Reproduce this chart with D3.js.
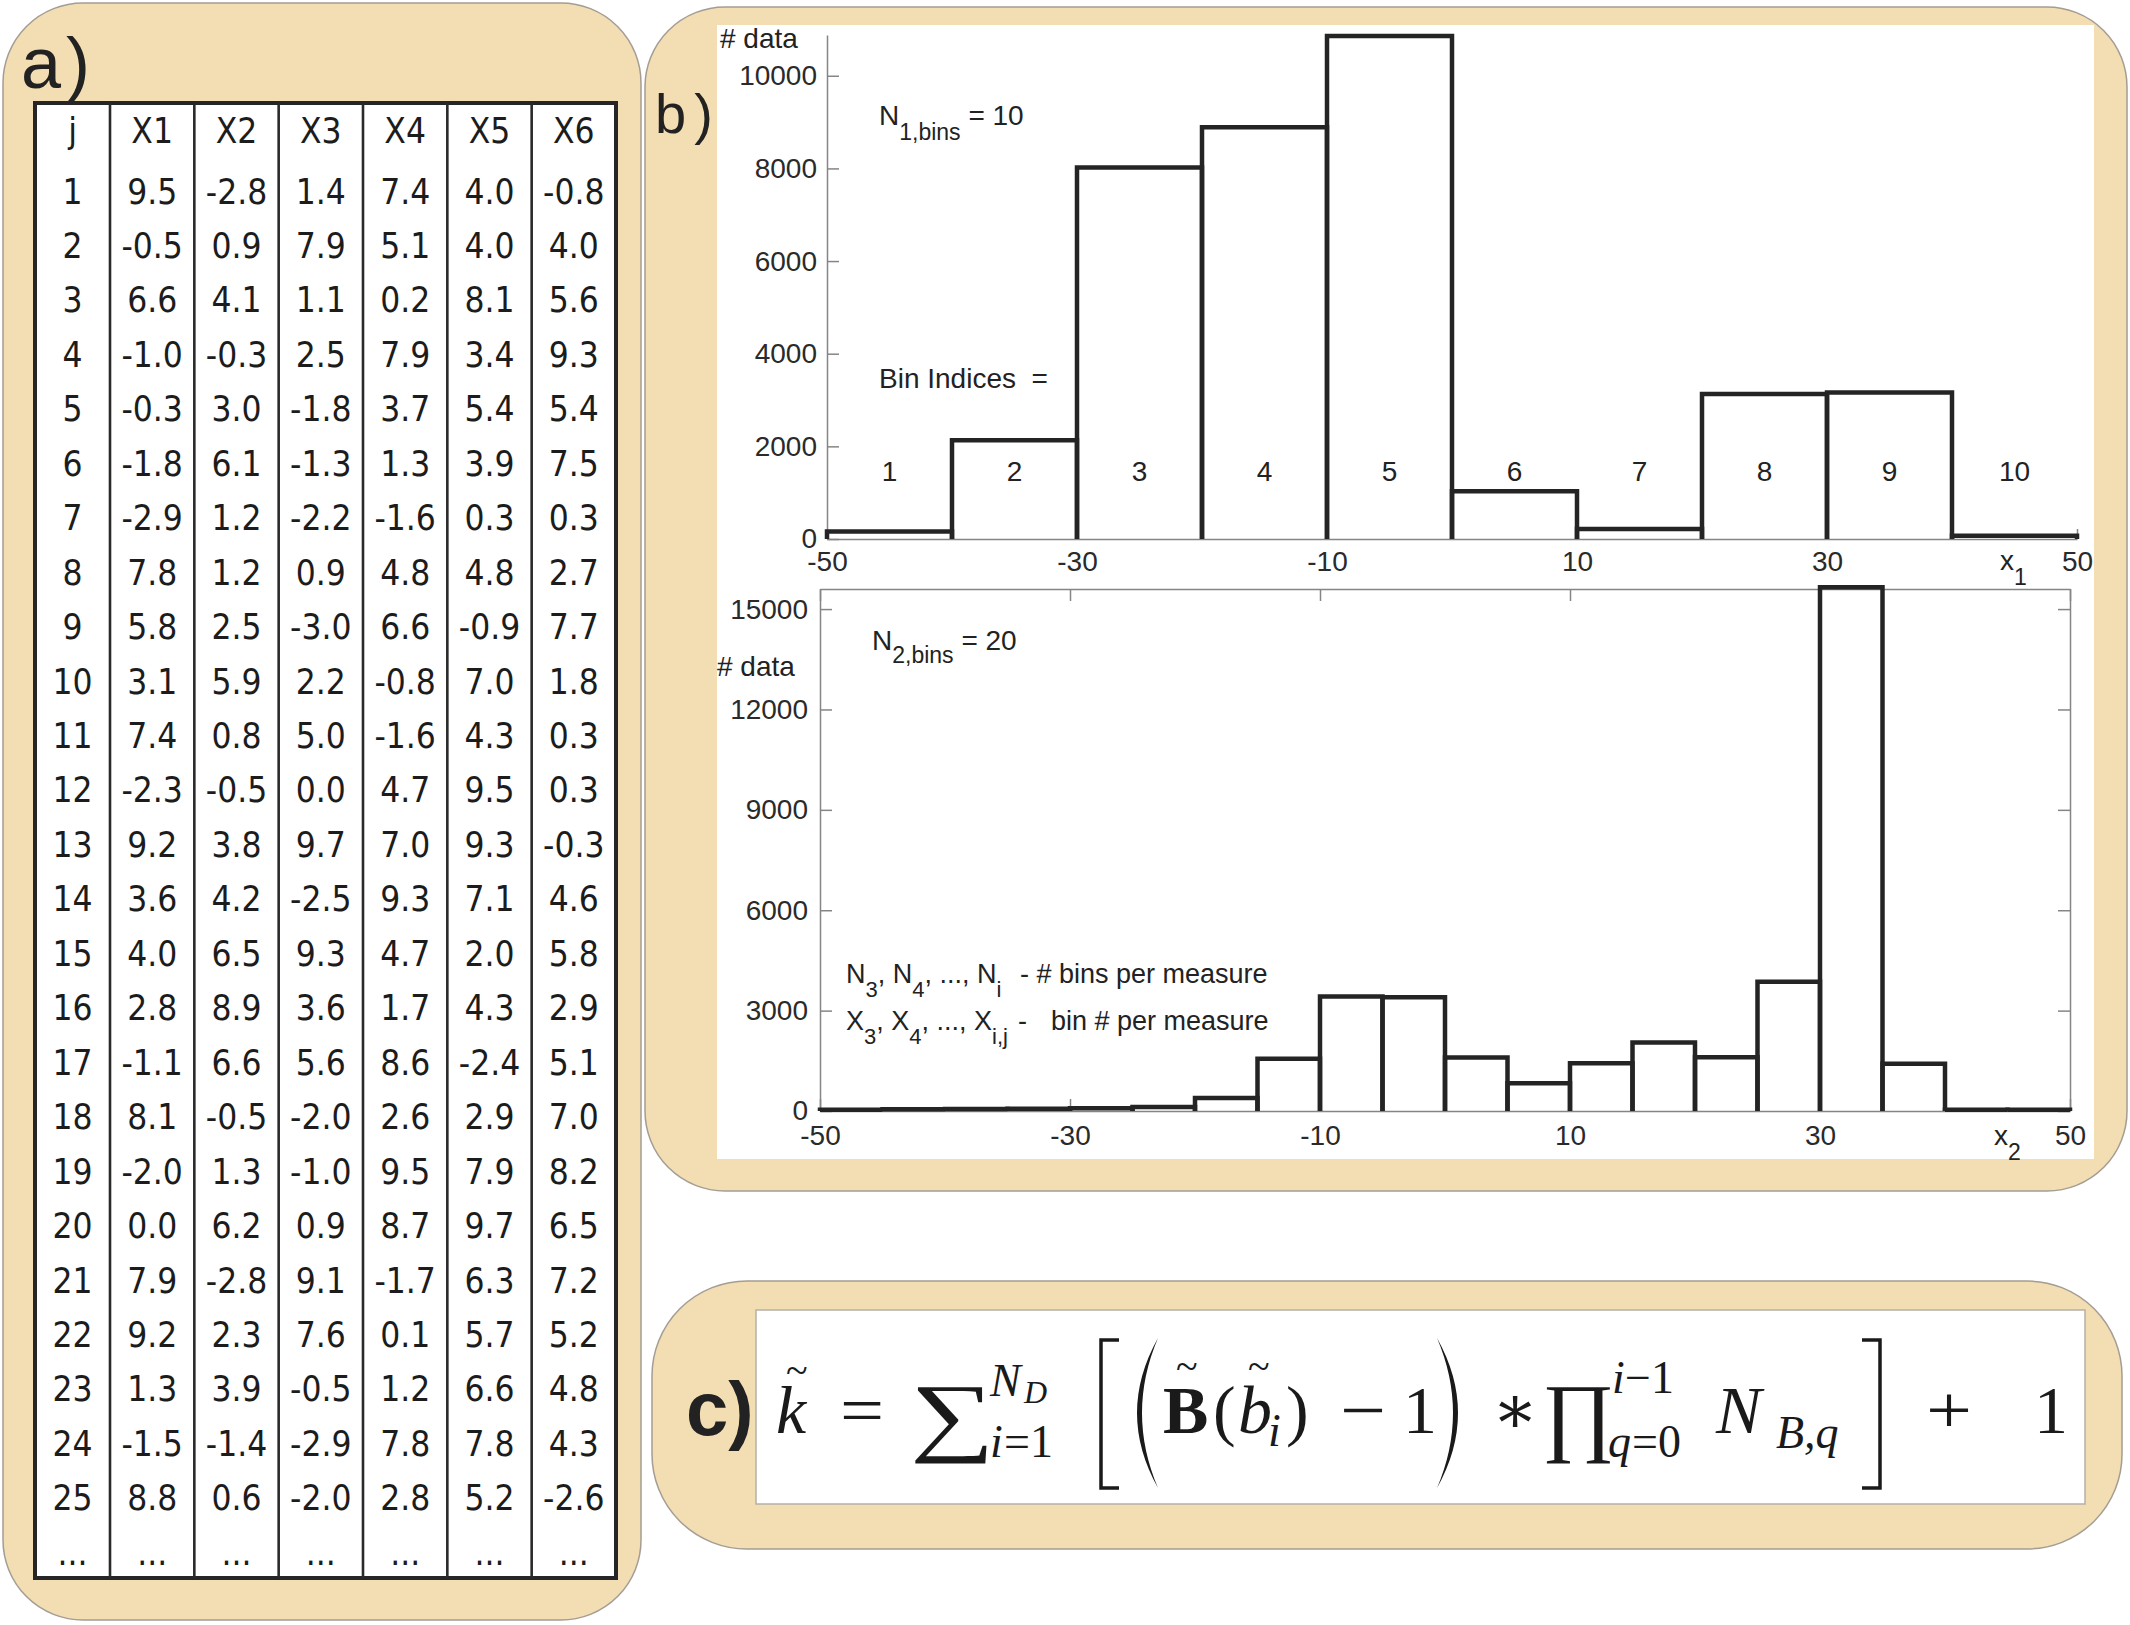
<!DOCTYPE html>
<html>
<head>
<meta charset="utf-8">
<script src="https://cdnjs.cloudflare.com/ajax/libs/d3/7.8.5/d3.min.js"></script>
<style>
  body { margin: 0; background: #fff; }
  .panel { fill: #f3ddb2; stroke: #a39d94; stroke-width: 1.5; }
  .axis path, .axis line { stroke: #858585; stroke-width: 1.5; }
  .axis text { font-family: "Liberation Sans", Arial, sans-serif; font-size: 28px; fill: #2a2a2a; }
  .bin { fill: none; stroke: #242424; stroke-width: 4.5; }
  .lbl { font-family: "Liberation Sans", Arial, sans-serif; font-size: 28px; fill: #222; }
  .cell { font-family: "Liberation Sans Narrow", "DejaVu Sans Condensed", "Liberation Sans", sans-serif; font-size: 35px; fill: #1c1c1c; text-anchor: middle; }
  .eq { font-family: "Liberation Serif", "DejaVu Serif", serif; fill: #1a1a1a; }
</style>
</head>
<body>
<svg id="fig" width="2130" height="1625"></svg>
<script>
// ---- panel a: the data table ----
var tableHeader = ["j", "X1", "X2", "X3", "X4", "X5", "X6"];
var rowIdx = [1, 2, 3, 4, 5, 6, 7, 8, 9, 10, 11, 12, 13, 14, 15, 16, 17, 18, 19, 20, 21, 22, 23, 24, 25];
var colX1 = [9.5, -0.5, 6.6, -1.0, -0.3, -1.8, -2.9, 7.8, 5.8, 3.1, 7.4, -2.3, 9.2, 3.6, 4.0, 2.8, -1.1, 8.1, -2.0, 0.0, 7.9, 9.2, 1.3, -1.5, 8.8];
var colX2 = [-2.8, 0.9, 4.1, -0.3, 3.0, 6.1, 1.2, 1.2, 2.5, 5.9, 0.8, -0.5, 3.8, 4.2, 6.5, 8.9, 6.6, -0.5, 1.3, 6.2, -2.8, 2.3, 3.9, -1.4, 0.6];
var colX3 = [1.4, 7.9, 1.1, 2.5, -1.8, -1.3, -2.2, 0.9, -3.0, 2.2, 5.0, 0.0, 9.7, -2.5, 9.3, 3.6, 5.6, -2.0, -1.0, 0.9, 9.1, 7.6, -0.5, -2.9, -2.0];
var colX4 = [7.4, 5.1, 0.2, 7.9, 3.7, 1.3, -1.6, 4.8, 6.6, -0.8, -1.6, 4.7, 7.0, 9.3, 4.7, 1.7, 8.6, 2.6, 9.5, 8.7, -1.7, 0.1, 1.2, 7.8, 2.8];
var colX5 = [4.0, 4.0, 8.1, 3.4, 5.4, 3.9, 0.3, 4.8, -0.9, 7.0, 4.3, 9.5, 9.3, 7.1, 2.0, 4.3, -2.4, 2.9, 7.9, 9.7, 6.3, 5.7, 6.6, 7.8, 5.2];
var colX6 = [-0.8, 4.0, 5.6, 9.3, 5.4, 7.5, 0.3, 2.7, 7.7, 1.8, 0.3, 0.3, -0.3, 4.6, 5.8, 2.9, 5.1, 7.0, 8.2, 6.5, 7.2, 5.2, 4.8, 4.3, -2.6];

// ---- panel b: two histograms ----
var binLo1 = [-50, -40, -30, -20, -10, 0, 10, 20, 30, 40];
var counts1 = [160, 2130, 8020, 8890, 10860, 1030, 215, 3130, 3165, 70];
var binIdx1 = ["1", "2", "3", "4", "5", "6", "7", "8", "9", "10"];
var binLo2 = [-50, -45, -40, -35, -30, -25, -20, -15, -10, -5, 0, 5, 10, 15, 20, 25, 30, 35, 40, 45];
var counts2 = [40, 50, 60, 70, 80, 120, 390, 1560, 3420, 3400, 1600, 830, 1430, 2045, 1605, 3865, 15650, 1410, 35, 35];
var xTickVals = [-50, -30, -10, 10, 30, 50];
var yTickVals1 = [0, 2000, 4000, 6000, 8000, 10000];
var yTickVals2 = [0, 3000, 6000, 9000, 12000, 15000];

var svg = d3.select("#fig");

// background panels (rounded, tan)
svg.append("rect").attr("class", "panel").attr("x", 3).attr("y", 3).attr("width", 638).attr("height", 1617).attr("rx", 80);
svg.append("rect").attr("class", "panel").attr("x", 645).attr("y", 7).attr("width", 1482).attr("height", 1184).attr("rx", 80);
svg.append("rect").attr("class", "panel").attr("x", 652).attr("y", 1281).attr("width", 1470).attr("height", 268).attr("rx", 95);

// panel letters
svg.append("text").attr("x", 21).attr("y", 88)
  .style("font-family", "'Liberation Sans Narrow', 'Liberation Sans', sans-serif").style("font-size", "72px").style("fill", "#222")
  .text("a").append("tspan").attr("dx", 5).text(")");
svg.append("text").attr("x", 655).attr("y", 133)
  .style("font-family", "'Liberation Sans', sans-serif").style("font-size", "56px").style("fill", "#222")
  .text("b").append("tspan").attr("dx", 8).text(")");
svg.append("text").attr("x", 686).attr("y", 1435)
  .style("font-family", "'Liberation Sans', sans-serif").style("font-size", "76px").style("font-weight", "bold").style("fill", "#222")
  .text("c)");

// ---------- table ----------
var tbl = svg.append("g");
var colsData = [colX1, colX2, colX3, colX4, colX5, colX6];
var xcol = d3.scaleBand().domain(tableHeader.slice(1)).range([110, 616]);
var rowY = d3.scaleLinear().domain([1, 26]).range([203.5, 1564.8]);
var tTop = 103, tBot = 1578, tLeft = 35;

tbl.append("rect").attr("x", tLeft).attr("y", tTop).attr("width", 616 - tLeft).attr("height", tBot - tTop)
  .attr("fill", "#fff").attr("stroke", "#262626").attr("stroke-width", 4);
tbl.selectAll(".vline").data(tableHeader.slice(1)).enter().append("line")
  .attr("x1", d => xcol(d)).attr("x2", d => xcol(d))
  .attr("y1", tTop).attr("y2", tBot)
  .attr("stroke", "#2a2a2a").attr("stroke-width", 2.6);

function colCenter(h) { return h === "j" ? (tLeft + xcol("X1")) / 2 : xcol(h) + xcol.bandwidth() / 2; }

tbl.selectAll(".hdr").data(tableHeader).enter().append("text")
  .attr("class", "cell").attr("x", colCenter).attr("y", 143).text(d => d);

tbl.selectAll(".ridx").data(rowIdx).enter().append("text")
  .attr("class", "cell").attr("x", colCenter("j")).attr("y", d => rowY(d)).text(d => d);

colsData.forEach(function (col, ci) {
  var h = tableHeader[ci + 1];
  tbl.selectAll(".c" + ci).data(col).enter().append("text")
    .attr("class", "cell").attr("x", colCenter(h)).attr("y", (d, i) => rowY(rowIdx[i]))
    .text(d => d.toFixed(1));
});
tbl.selectAll(".dots").data(tableHeader).enter().append("text")
  .attr("class", "cell").attr("x", colCenter).attr("y", rowY(26)).text("...");

// ---------- panel b white area ----------
svg.append("rect").attr("x", 717).attr("y", 25).attr("width", 1377).attr("height", 1134).attr("fill", "#fff");

function binPath(x, y, lo, w, c) {
  return "M" + x(lo) + "," + y(0) + "V" + y(c) + "H" + x(lo + w) + "V" + y(0);
}

// text with alternating normal / subscript pieces
function subText(sel, parts, drop, subSize) {
  var down = false;
  parts.forEach(function (p, k) {
    if (p === "") return;
    var isSub = k % 2 === 1;
    var ts = sel.append("tspan").text(p);
    if (isSub && !down) { ts.attr("dy", drop).style("font-size", subSize); down = true; }
    else if (isSub) { ts.style("font-size", subSize); }
    else if (down) { ts.attr("dy", -drop); down = false; }
  });
}

// top histogram
var x1 = d3.scaleLinear().domain([-50, 50]).range([827, 2077]);
var y1 = d3.scaleLinear().domain([0, 10880]).range([539, 35]);
var h1 = svg.append("g");

h1.append("g").attr("class", "axis").attr("transform", "translate(0,539)")
  .call(d3.axisBottom(x1).tickValues(xTickVals).tickSize(-10).tickSizeOuter(0).tickPadding(12).tickFormat(String));
h1.append("g").attr("class", "axis").attr("transform", "translate(827,0)")
  .call(d3.axisLeft(y1).tickValues(yTickVals1).tickSize(-12).tickSizeOuter(0).tickPadding(10).tickFormat(String));

h1.selectAll(".bin").data(counts1).enter().append("path")
  .attr("class", "bin").attr("d", (c, i) => binPath(x1, y1, binLo1[i], 10, c));

h1.selectAll(".bidx").data(binIdx1).enter().append("text")
  .attr("class", "lbl").attr("text-anchor", "middle")
  .attr("x", (d, i) => x1(binLo1[i] + 5)).attr("y", 481).text(d => d);

h1.append("text").attr("class", "lbl").attr("x", 720).attr("y", 48).text("# data");
subText(h1.append("text").attr("class", "lbl").attr("x", 879).attr("y", 125), ["N", "1,bins", " = 10"], 15, "23px");
h1.append("text").attr("class", "lbl").attr("x", 879).attr("y", 388).attr("xml:space", "preserve").text("Bin Indices  =");
subText(h1.append("text").attr("class", "lbl").attr("x", 2000).attr("y", 570), ["x", "1"], 15, "23px");

// bottom histogram
var x2 = d3.scaleLinear().domain([-50, 50]).range([820, 2070]);
var y2 = d3.scaleLinear().domain([0, 15600]).range([1111, 589]);
var h2 = svg.append("g");

h2.append("g").attr("class", "axis").attr("transform", "translate(0,1111)")
  .call(d3.axisBottom(x2).tickValues(xTickVals).tickSize(-12).tickSizeOuter(0).tickPadding(14).tickFormat(String));
h2.append("g").attr("class", "axis").attr("transform", "translate(0,589)")
  .call(d3.axisTop(x2).tickValues(xTickVals).tickSize(-12).tickSizeOuter(0).tickFormat(""));
h2.append("g").attr("class", "axis").attr("transform", "translate(820,0)")
  .call(d3.axisLeft(y2).tickValues(yTickVals2).tickSize(-12).tickSizeOuter(0).tickPadding(12).tickFormat(String));
h2.append("g").attr("class", "axis").attr("transform", "translate(2070,0)")
  .call(d3.axisRight(y2).tickValues(yTickVals2).tickSize(-12).tickSizeOuter(0).tickFormat(""));

h2.selectAll(".bin").data(counts2).enter().append("path")
  .attr("class", "bin").attr("d", (c, i) => binPath(x2, y2, binLo2[i], 5, c));

h2.append("text").attr("class", "lbl").attr("x", 717).attr("y", 676).text("# data");
subText(h2.append("text").attr("class", "lbl").attr("x", 872).attr("y", 650), ["N", "2,bins", " = 20"], 13, "23px");

subText(h2.append("text").attr("class", "lbl").attr("x", 846).attr("y", 983).style("font-size", "27px"),
  ["N", "3", ", N", "4", ", ..., N", "i"], 14, "22px");
h2.append("text").attr("class", "lbl").attr("x", 1020).attr("y", 983).style("font-size", "27px").text("- # bins per measure");

subText(h2.append("text").attr("class", "lbl").attr("x", 846).attr("y", 1030).style("font-size", "27px"),
  ["X", "3", ", X", "4", ", ..., X", "i,j"], 14, "22px");
h2.append("text").attr("class", "lbl").attr("x", 1018).attr("y", 1030).style("font-size", "27px").text("-");
h2.append("text").attr("class", "lbl").attr("x", 1051).attr("y", 1030).style("font-size", "27px").text("bin # per measure");

subText(h2.append("text").attr("class", "lbl").attr("x", 1994).attr("y", 1145), ["x", "2"], 15, "23px");

// ---------- panel c: the formula ----------
svg.append("rect").attr("x", 756).attr("y", 1310).attr("width", 1329).attr("height", 194)
  .attr("fill", "#fff").attr("stroke", "#b5b0a8").attr("stroke-width", 1.5);

var eqParts = [
  {t: "k", x: 776, y: 1433, s: 68, it: 1},
  {t: "~", x: 786, y: 1384, s: 40},
  {t: "=", x: 840, y: 1433, s: 68, sx: 1.15},
  {t: "\u2211", x: 910, y: 1445, s: 88, sx: 1.35},
  {t: "N", x: 990, y: 1396, s: 46, it: 1},
  {t: "D", x: 1024, y: 1403, s: 32, it: 1},
  {t: "i", x: 990, y: 1457, s: 46, it: 1},
  {t: "=1", x: 1004, y: 1457, s: 46},
  {t: "B", x: 1163, y: 1433, s: 68, bf: 1},
  {t: "~", x: 1176, y: 1380, s: 40},
  {t: "(", x: 1213, y: 1433, s: 68},
  {t: "b", x: 1238, y: 1433, s: 68, it: 1},
  {t: "~", x: 1248, y: 1380, s: 40},
  {t: "i", x: 1268, y: 1446, s: 46, it: 1},
  {t: ")", x: 1286, y: 1433, s: 68},
  {t: "\u2212", x: 1340, y: 1433, s: 68, sx: 1.2},
  {t: "1", x: 1403, y: 1433, s: 68},
  {t: "\u2217", x: 1492, y: 1433, s: 68},
  {t: "\u220F", x: 1542, y: 1445, s: 88},
  {t: "i", x: 1612, y: 1393, s: 46, it: 1},
  {t: "\u22121", x: 1625, y: 1393, s: 46},
  {t: "q", x: 1608, y: 1457, s: 46, it: 1},
  {t: "=0", x: 1632, y: 1457, s: 46},
  {t: "N", x: 1716, y: 1433, s: 68, it: 1},
  {t: "B,q", x: 1776, y: 1448, s: 46, it: 1},
  {t: "+", x: 1926, y: 1433, s: 68, sx: 1.2},
  {t: "1", x: 2034, y: 1433, s: 68}
];
var eq = svg.append("g");
eq.selectAll("text").data(eqParts).enter().append("text")
  .attr("class", "eq")
  .attr("transform", d => "translate(" + d.x + "," + d.y + ") scale(" + (d.sx || 1) + ",1)")
  .style("font-size", d => d.s + "px")
  .style("font-style", d => d.it ? "italic" : "normal")
  .style("font-weight", d => d.bf ? "bold" : "normal")
  .text(d => d.t);

// big delimiters
var delim = [
  "M1119,1340H1101V1488H1119",
  "M1862,1340H1880V1488H1862"
];
eq.selectAll(".br").data(delim).enter().append("path")
  .attr("d", d => d).attr("fill", "none").attr("stroke", "#1a1a1a").attr("stroke-width", 3.5);
eq.append("path").attr("d", "M1158,1338Q1116,1413 1158,1488Q1126,1413 1158,1338Z").attr("fill", "#1a1a1a");
eq.append("path").attr("d", "M1437,1338Q1479,1413 1437,1488Q1469,1413 1437,1338Z").attr("fill", "#1a1a1a");
</script>
</body>
</html>
